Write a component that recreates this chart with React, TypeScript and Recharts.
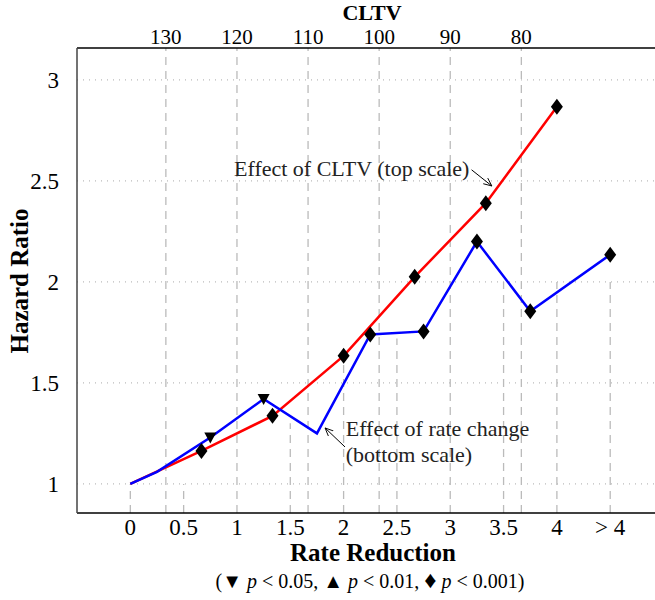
import React from "react";
import { LineChart, Line, XAxis, YAxis, ReferenceLine, ReferenceDot } from "recharts";

const rateX = [0, 0.25, 0.75, 1.25, 1.75, 2.25, 2.75, 3.25, 3.75, 4.5];
const rateHR = [1.0, 1.06, 1.23, 1.42, 1.25, 1.74, 1.755, 2.2, 1.855, 2.135];
const rateMarker = ["none", "none", "down", "down", "none", "diamond", "diamond", "diamond", "diamond", "diamond"];

const cltvValues = [135, 125, 115, 105, 95, 85, 75];
const cltvHR = [1.0, 1.163, 1.337, 1.634, 2.025, 2.39, 2.867];
const cltvMarker = ["none", "diamond", "diamond", "diamond", "diamond", "diamond", "diamond"];

const bottomTicks = [0, 0.5, 1, 1.5, 2, 2.5, 3, 3.5, 4, 4.5];
const topTicks = [130, 120, 110, 100, 90, 80];
const yTicks = [1, 1.5, 2, 2.5, 3];
const bottomGridTops = [[0, 1.0], [0.5, 1.0], [1.5, 1.3], [2, 1.65], [2.5, 1.72], [3.5, 2.0], [4, 2.0], [4.5, 2.0]];

const cltvToX = (c: number) => (135 - c) / 15;

const rateData = rateX.map((x, i) => ({ x, y: rateHR[i], m: rateMarker[i] }));
const cltvData = cltvValues.map((c, i) => ({ x: cltvToX(c), y: cltvHR[i], m: cltvMarker[i] }));

const FONT = "'Liberation Serif', 'DejaVu Serif', serif";

const Marker = (props: any) => {
  const { cx, cy, payload } = props;
  if (cx == null || cy == null) return null;
  if (payload.m === "diamond")
    return <path d={`M${cx},${cy - 8} L${cx + 6},${cy} L${cx},${cy + 8} L${cx - 6},${cy} Z`} fill="#000" />;
  if (payload.m === "down")
    return <path d={`M${cx - 6},${cy - 5} L${cx + 6},${cy - 5} L${cx},${cy + 6} Z`} fill="#000" />;
  return <g />;
};

export default function App() {
  return (
    <div style={{ position: "absolute", left: 0, top: 0 }}>
      <LineChart width={655} height={600} margin={{ top: 0, right: 0, bottom: 0, left: 0 }}>
        <defs>
          <marker id="arr" viewBox="0 0 10 10" refX="9" refY="5" markerWidth="9" markerHeight="9" orient="auto">
            <path d="M0,1 L9,5 L0,9" fill="none" stroke="#000" strokeWidth="1" />
          </marker>
        </defs>
        <XAxis
          xAxisId="b"
          type="number"
          dataKey="x"
          domain={[-0.5, 4.92]}
          ticks={bottomTicks}
          tickFormatter={(v: number) => (v === 4.5 ? "> 4" : String(v))}
          height={87}
          stroke="#000"
          strokeWidth={1.5}
          tickLine={false}
          tick={{ fill: "#000", fontSize: 23, fontFamily: FONT, dy: -2 }}
          interval={0}
          allowDataOverflow
          label={() => (
            <g fontFamily={FONT} fill="#000">
              <text x={373} y={561} textAnchor="middle" fontSize={25} fontWeight="bold">Rate Reduction</text>
              <text x={370} y={588} textAnchor="middle" fontSize={20}>
                (▼ <tspan fontStyle="italic">p</tspan> &lt; 0.05, ▲ <tspan fontStyle="italic">p</tspan> &lt; 0.01, <tspan fontSize={24}>♦</tspan> <tspan fontStyle="italic">p</tspan> &lt; 0.001)
              </text>
            </g>
          )}
        />
        <XAxis
          xAxisId="t"
          orientation="top"
          type="number"
          dataKey="x"
          domain={[-0.5, 4.92]}
          ticks={topTicks.map(cltvToX)}
          tickFormatter={(v: number) => String(Math.round(135 - v * 15))}
          height={48}
          stroke="#000"
          strokeWidth={1.5}
          tickLine={false}
          tick={{ fill: "#000", fontSize: 21, fontFamily: FONT, dy: 4 }}
          interval={0}
          allowDataOverflow
          label={() => (
            <text x={372} y={20} textAnchor="middle" fontSize={22} fontWeight="bold" fontFamily={FONT} fill="#000">CLTV</text>
          )}
        />
        <YAxis
          type="number"
          domain={[0.856, 3.158]}
          ticks={yTicks}
          width={77}
          stroke="#444"
          strokeWidth={1.5}
          tickLine={false}
          allowDataOverflow
          tick={{ fill: "#000", fontSize: 23, fontFamily: FONT, dx: -10 }}
          label={() => (
            <text x={28} y={281} transform="rotate(-90 28 281)" textAnchor="middle" fontSize={25} fontWeight="bold" fontFamily={FONT} fill="#000">Hazard Ratio</text>
          )}
        />
        {yTicks.map((t) => (
          <ReferenceLine key={"h" + t} xAxisId="b" y={t} stroke="#aaa" strokeDasharray="1 5" strokeWidth={1} />
        ))}
        {topTicks.map((c) => (
          <ReferenceLine key={"t" + c} xAxisId="b" x={cltvToX(c)} stroke="#bbb" strokeDasharray="8 6" strokeWidth={1.3} />
        ))}
        {bottomGridTops.map(([x, top]) => (
          <ReferenceLine
            key={"b" + x}
            xAxisId="b"
            segment={[{ x, y: 0.856 }, { x, y: top }]}
            stroke="#bbb"
            strokeDasharray="8 6"
            strokeWidth={1.3}
          />
        ))}
        <Line xAxisId="b" data={cltvData} dataKey="y" stroke="#ff0000" strokeWidth={2.5} dot={<Marker />} isAnimationActive={false} />
        <Line xAxisId="b" data={rateData} dataKey="y" stroke="#0000ff" strokeWidth={2.5} dot={<Marker />} isAnimationActive={false} />
        <ReferenceLine xAxisId="b" segment={[{ x: 3.2, y: 2.555 }, { x: 3.39, y: 2.475 }]} stroke="#000" strokeWidth={1} markerEnd="url(#arr)" />
        <ReferenceLine xAxisId="b" segment={[{ x: 2.013, y: 1.183 }, { x: 1.826, y: 1.277 }]} stroke="#000" strokeWidth={1} markerEnd="url(#arr)" />
        <ReferenceDot
          xAxisId="b"
          x={3.18}
          y={2.54}
          r={0}
          fill="none"
          stroke="none"
          label={(p: any) => (
            <text x={p.viewBox.x} y={p.viewBox.y + 3} textAnchor="end" fontSize={22} fontFamily={FONT} fill="#222">Effect of CLTV (top scale)</text>
          )}
        />
        <ReferenceDot
          xAxisId="b"
          x={2.02}
          y={1.26}
          r={0}
          fill="none"
          stroke="none"
          label={(p: any) => (
            <text x={p.viewBox.x} y={p.viewBox.y + 5} fontSize={22} fontFamily={FONT} fill="#222">
              <tspan x={p.viewBox.x}>Effect of rate change</tspan>
              <tspan x={p.viewBox.x} dy={26}>(bottom scale)</tspan>
            </text>
          )}
        />
      </LineChart>
    </div>
  );
}
